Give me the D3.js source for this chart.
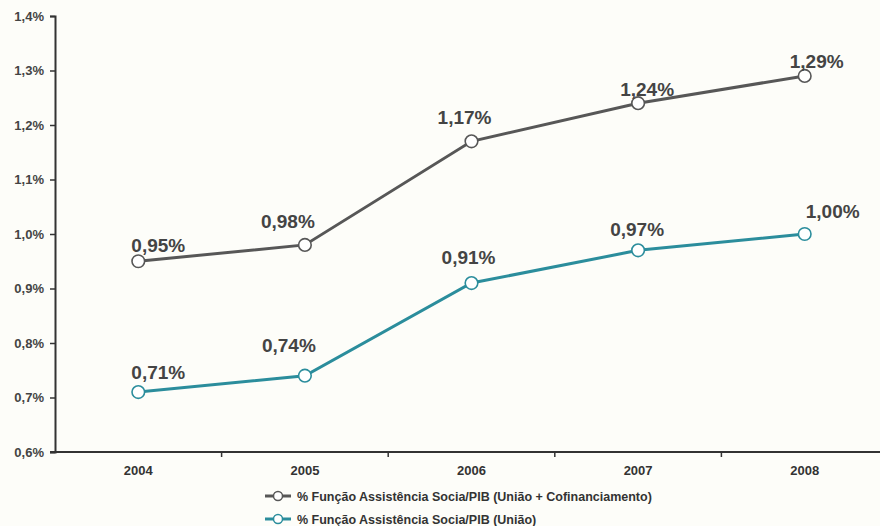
<!DOCTYPE html>
<html>
<head>
<meta charset="utf-8">
<script src="https://cdn.jsdelivr.net/npm/d3@7"></script>
<style>
  html, body { margin: 0; padding: 0; background: #fdfdf9; }
  svg { display: block; }
  text { font-family: "Liberation Sans", Arial, sans-serif; font-weight: bold; }
</style>
</head>
<body>
<svg id="chart" width="880" height="526"></svg>
<script>
// Assistência social como % do PIB, 2004–2008
const years = ["2004", "2005", "2006", "2007", "2008"];
const uniaoCofin = [0.95, 0.98, 1.17, 1.24, 1.29];
const uniao = [0.71, 0.74, 0.91, 0.97, 1.00];
const yTicks = [0.6, 0.7, 0.8, 0.9, 1.0, 1.1, 1.2, 1.3, 1.4];
const seriesNames = [
  "% Função Assistência Socia/PIB (União + Cofinanciamento)",
  "% Função Assistência Socia/PIB (União)"
];

// label nudges (px) relative to each point, per series
const labelNudgeGray = [[20, -9], [-17, -17], [-7, -17], [9, -7], [12, -8]];
const labelNudgeTeal = [[20, -13], [-16, -24], [-3, -19], [-1, -14], [28, -16]];

const colors = ["#575757", "#2b8d9c"];
const fmt = v => d3.format(".2f")(v).replace(".", ",") + "%";
const fmtTick = v => d3.format(".1f")(v).replace(".", ",") + "%";

const svg = d3.select("#chart");
const margin = { left: 55, top: 16, bottom: 452, right: 888 };

const x = d3.scaleBand().domain(years).range([margin.left, margin.right]);
const y = d3.scaleLinear().domain([0.6, 1.4]).range([margin.bottom, margin.top]);

// y axis
const yAxis = svg.append("g")
  .attr("transform", `translate(${margin.left},0)`)
  .call(d3.axisLeft(y).tickValues(yTicks).tickFormat(fmtTick).tickSize(5).tickPadding(6));
yAxis.select(".domain").attr("stroke", "#333").attr("stroke-width", 2);
yAxis.selectAll(".tick line").attr("stroke", "#333").attr("stroke-width", 1.5);
yAxis.selectAll(".tick text").attr("fill", "#444").attr("font-size", 13)
  .attr("font-family", "Liberation Sans, Arial, sans-serif").attr("font-weight", "bold");

// x axis: baseline with ticks between categories
const xg = svg.append("g").attr("transform", `translate(0,${margin.bottom})`);
xg.append("line")
  .attr("x1", margin.left - 5).attr("x2", 880)
  .attr("stroke", "#333").attr("stroke-width", 2);
xg.selectAll("line.sep")
  .data(years.slice(1))
  .join("line")
  .attr("class", "sep")
  .attr("x1", d => x(d)).attr("x2", d => x(d))
  .attr("y1", 0).attr("y2", 5)
  .attr("stroke", "#333").attr("stroke-width", 1.5);
xg.selectAll("text.yr")
  .data(years)
  .join("text")
  .attr("class", "yr")
  .attr("x", d => x(d) + x.bandwidth() / 2)
  .attr("y", 23)
  .attr("text-anchor", "middle")
  .attr("font-size", 13)
  .attr("fill", "#333")
  .text(d => d);

const cx = d => x(d) + x.bandwidth() / 2;
const line = d3.line().x((d, i) => cx(years[i])).y(d => y(d));

function drawSeries(values, color, nudges) {
  const g = svg.append("g");
  g.append("path")
    .datum(values)
    .attr("d", line)
    .attr("fill", "none")
    .attr("stroke", color)
    .attr("stroke-width", 3);
  g.selectAll("circle")
    .data(values)
    .join("circle")
    .attr("cx", (d, i) => cx(years[i]))
    .attr("cy", d => y(d))
    .attr("r", 6.3)
    .attr("fill", "#fff")
    .attr("stroke", color)
    .attr("stroke-width", 1.6);
  g.selectAll("text")
    .data(values)
    .join("text")
    .attr("x", (d, i) => cx(years[i]) + nudges[i][0])
    .attr("y", (d, i) => y(d) + nudges[i][1])
    .attr("text-anchor", "middle")
    .attr("font-size", 19)
    .attr("fill", "#444")
    .text(d => fmt(d));
}

drawSeries(uniaoCofin, colors[0], labelNudgeGray);
drawSeries(uniao, colors[1], labelNudgeTeal);

// legend
const legend = svg.append("g").attr("transform", "translate(265,496)");
seriesNames.forEach((name, i) => {
  const row = legend.append("g").attr("transform", `translate(0,${i * 23})`);
  row.append("line").attr("x1", 0).attr("x2", 26).attr("stroke", colors[i]).attr("stroke-width", 3);
  row.append("circle").attr("cx", 13).attr("r", 4.5).attr("fill", "#fff")
    .attr("stroke", colors[i]).attr("stroke-width", 1.5);
  row.append("text").attr("x", 32).attr("y", 4.5)
    .attr("font-size", 12.5).attr("fill", "#333").text(name);
});
</script>
</body>
</html>
